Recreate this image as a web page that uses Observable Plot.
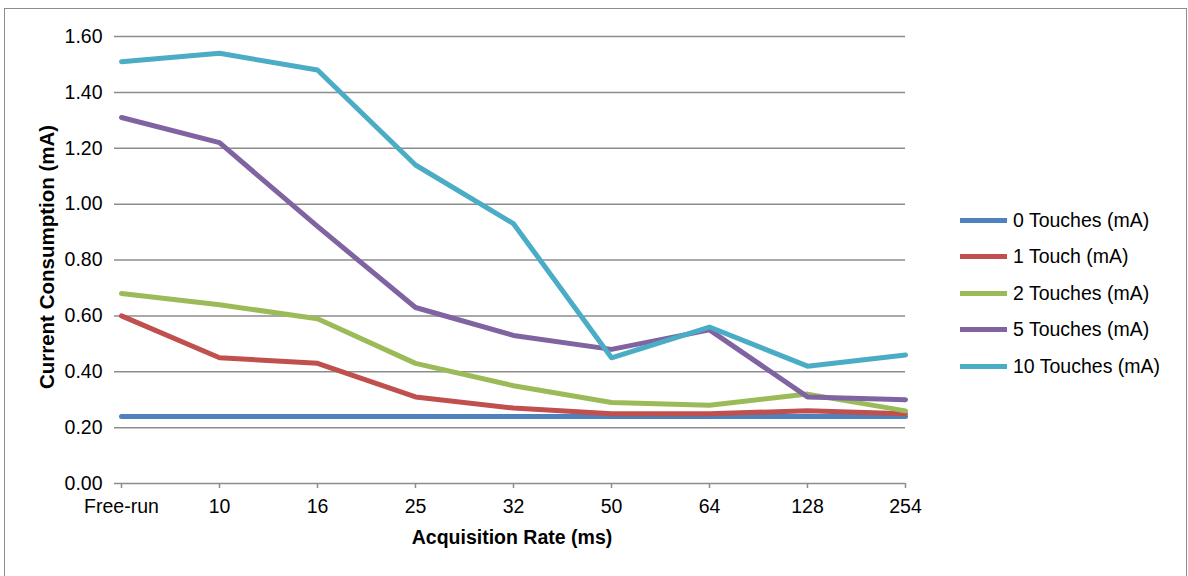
<!DOCTYPE html>
<html><head><meta charset="utf-8">
<script src="https://cdn.jsdelivr.net/npm/d3@7"></script>
<script src="https://cdn.jsdelivr.net/npm/@observablehq/plot@0.6"></script>
<style>
body{margin:0;background:#fff;overflow:hidden;font-family:"Liberation Sans",Arial,sans-serif;}
#wrap{position:relative;width:1188px;height:576px;overflow:hidden;}
#frame{position:absolute;left:4px;top:8px;width:1183px;height:620px;border:1.5px solid #8c8c8c;box-sizing:border-box;}
#chart{position:absolute;left:0;top:0;}
.title{position:absolute;font-weight:bold;color:#000;white-space:nowrap;}
#xt{left:512px;top:537px;font-size:19.5px;transform:translate(-50%,-50%);}
#yt{left:47px;top:257px;font-size:20.5px;transform:translate(-50%,-50%) rotate(-90deg);}
#legend{position:absolute;left:960px;top:202px;}
.row{display:flex;align-items:center;height:36.5px;font-size:19.5px;color:#000;white-space:nowrap;}
.sw{width:47px;height:5px;margin-right:6px;}
</style></head>
<body>
<div id="wrap">
  <div id="frame"></div>
  <div id="chart"></div>
  <div class="title" id="xt">Acquisition Rate (ms)</div>
  <div class="title" id="yt">Current Consumption (mA)</div>
  <div id="legend"></div>
</div>
<script>
const categories = ["Free-run","10","16","25","32","50","64","128","254"];
const seriesNames = ["0 Touches (mA)","1 Touch (mA)","2 Touches (mA)","5 Touches (mA)","10 Touches (mA)"];
const seriesColors = ["#4F81BD","#C0504D","#9BBB59","#8064A2","#4BACC6"];
const touches0 = [0.24,0.24,0.24,0.24,0.24,0.24,0.24,0.24,0.24];
const touches1 = [0.60,0.45,0.43,0.31,0.27,0.25,0.25,0.26,0.25];
const touches2 = [0.68,0.64,0.59,0.43,0.35,0.29,0.28,0.32,0.26];
const touches5 = [1.31,1.22,0.92,0.63,0.53,0.48,0.55,0.31,0.30];
const touches10 = [1.51,1.54,1.48,1.14,0.93,0.45,0.56,0.42,0.46];
const yTicks = [0,0.2,0.4,0.6,0.8,1.0,1.2,1.4,1.6];

const seriesValues = [touches0,touches1,touches2,touches5,touches10];
const data = [];
seriesNames.forEach((name,i)=>{
  categories.forEach((c,j)=>data.push({series:name,cat:c,value:seriesValues[i][j]}));
});

const chart = Plot.plot({
  width:1188, height:576,
  marginLeft:120, marginRight:283, marginTop:36, marginBottom:93,
  style:{fontFamily:"'Liberation Sans', Arial, sans-serif", fontSize:"19.5px", color:"#000", background:"transparent"},
  x:{type:"point", domain:categories, padding:0},
  y:{domain:[0,1.6]},
  color:{domain:seriesNames, range:seriesColors},
  marks:[
    Plot.ruleY(yTicks,{stroke:"#8c8c8c", strokeWidth:1.5, insetLeft:-6}),
    Plot.axisY({ticks:yTicks, tickSize:0, tickPadding:18, tickFormat:d=>d.toFixed(2), label:null}),
    Plot.axisX({tickSize:5, stroke:"#8c8c8c", strokeWidth:1.5, tickFormat:()=>"", label:null}),
    Plot.axisX({tickSize:0, tickPadding:16, label:null}),
    Plot.line(data,{x:"cat", y:"value", z:"series", stroke:"series", strokeWidth:5, strokeLinejoin:"round"})
  ]
});
document.getElementById("chart").appendChild(chart);

const legend = document.getElementById("legend");
seriesNames.forEach((name,i)=>{
  const row = document.createElement("div");
  row.className="row";
  const sw = document.createElement("div");
  sw.className="sw"; sw.style.background=seriesColors[i];
  const t = document.createElement("span");
  t.textContent=name;
  row.appendChild(sw); row.appendChild(t);
  legend.appendChild(row);
});
</script>
</body></html>
